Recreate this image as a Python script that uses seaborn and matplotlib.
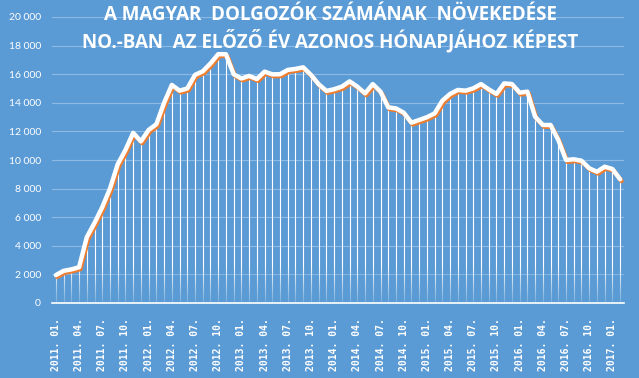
import numpy as np
import pandas as pd
import matplotlib.pyplot as plt
import seaborn as sns
from matplotlib import patheffects as pe
from matplotlib.colors import to_rgb
from matplotlib.ticker import FuncFormatter

# --- Data (monthly, 2011.01 - 2017.02) ---
values = [
    1950, 2250, 2350, 2500, 4600, 5600, 6700, 8000, 9700, 10700, 11900, 11300,      # 2011
    12100, 12500, 14000, 15250, 14850, 15000, 15950, 16200, 16750, 17400, 17400, 16000,  # 2012
    15700, 15880, 15660, 16180, 15990, 16000, 16300, 16370, 16480, 15950, 15300, 14830,  # 2013
    14950, 15130, 15500, 15130, 14660, 15310, 14780, 13680, 13610, 13310, 12610, 12800,  # 2014
    12990, 13260, 14150, 14620, 14900, 14850, 15010, 15310, 14940, 14620, 15360, 15310,  # 2015
    14710, 14780, 13030, 12450, 12450, 11400, 10000, 10050, 9950, 9420, 9180, 9530,      # 2016
    9370, 8650,                                                                          # 2017
]
tick_labels = [
    "2011. 01.", "2011. 04.", "2011. 07.", "2011. 10.",
    "2012. 01.", "2012. 04.", "2012. 07.", "2012. 10.",
    "2013. 01.", "2013. 04.", "2013. 07.", "2013. 10.",
    "2014. 01.", "2014. 04.", "2014. 07.", "2014. 10.",
    "2015. 01.", "2015. 04.", "2015. 07.", "2015. 10.",
    "2016. 01.", "2016. 04.", "2016. 07.", "2016. 10.",
    "2017. 01.",
]
title_lines = ["A MAGYAR  DOLGOZÓK SZÁMÁNAK  NÖVEKEDÉSE",
               "NO.-BAN  AZ ELŐZŐ ÉV AZONOS HÓNAPJÁHOZ KÉPEST"]

BG = '#5B9BD5'
GRID = '#8DBBE6'
ORANGE = '#ED7D31'

sns.set_style('white')
plt.rcParams['font.family'] = ['Lato', 'DejaVu Sans']

df = pd.DataFrame({'idx': np.arange(len(values)), 'value': values})

fig = plt.figure(figsize=(6.39, 3.78), dpi=100, facecolor=BG)
W, H = 639, 378
ax = fig.add_axes([52 / W, 1 - 303 / H, (624 - 52) / W, (303 - 17) / H])
ax.set_facecolor(BG)

# drop lines
ax.vlines(df['idx'], 0, df['value'], color='white', lw=0.8, zorder=2)

# drop lines fade out towards zero
grad = np.zeros((50, 1, 4))
grad[..., :3] = to_rgb(BG)
grad[..., 3] = np.linspace(0.85, 0.0, 50)[:, None]
ax.imshow(grad, extent=(-0.5, len(values) - 0.5, 0, 2600), aspect='auto',
          origin='lower', zorder=2.5, interpolation='bilinear')

sns.lineplot(data=df, x='idx', y='value', ax=ax, color='white', lw=3.2, zorder=4,
             path_effects=[pe.SimpleLineShadow(offset=(1.0, -1.3), shadow_color=ORANGE,
                                               alpha=1, rho=1), pe.Normal()])

ax.set_xlim(-0.5, len(values) - 0.5)
ax.set_ylim(0, 20000)
ax.set_yticks(range(0, 20001, 2000))
ax.yaxis.set_major_formatter(FuncFormatter(lambda v, p: f"{int(v):,}".replace(',', ' ')))
ax.yaxis.grid(True, color=GRID, lw=0.8, zorder=0)
ax.set_axisbelow(True)

ax.set_xticks(np.arange(0, len(values), 3))
ax.set_xticklabels(tick_labels, rotation=90, family=['DejaVu Sans Mono'],
                   fontweight='bold', fontsize=7, color='white')
ax.set_xticks(np.arange(-0.5, len(values) - 1, 3), minor=True)
ax.tick_params(axis='x', which='major', length=0, pad=11)
ax.tick_params(axis='x', which='minor', length=4, width=1, color='white', direction='out')
ax.tick_params(axis='y', length=0, pad=8, labelsize=7.5, labelcolor='white')

ax.set_xlabel('')
ax.set_ylabel('')
for s in ['left', 'right', 'top']:
    ax.spines[s].set_visible(False)
ax.spines['bottom'].set_color('white')
ax.spines['bottom'].set_linewidth(1.2)

for text, ypix in zip(title_lines, [15, 41]):
    fig.text(330 / W, 1 - ypix / H, text, ha='center', va='center',
             color='white', fontsize=13.5, fontweight='bold',
             family=['Open Sans', 'DejaVu Sans'], zorder=10)

fig.savefig('out.png', dpi=100, facecolor=BG)
